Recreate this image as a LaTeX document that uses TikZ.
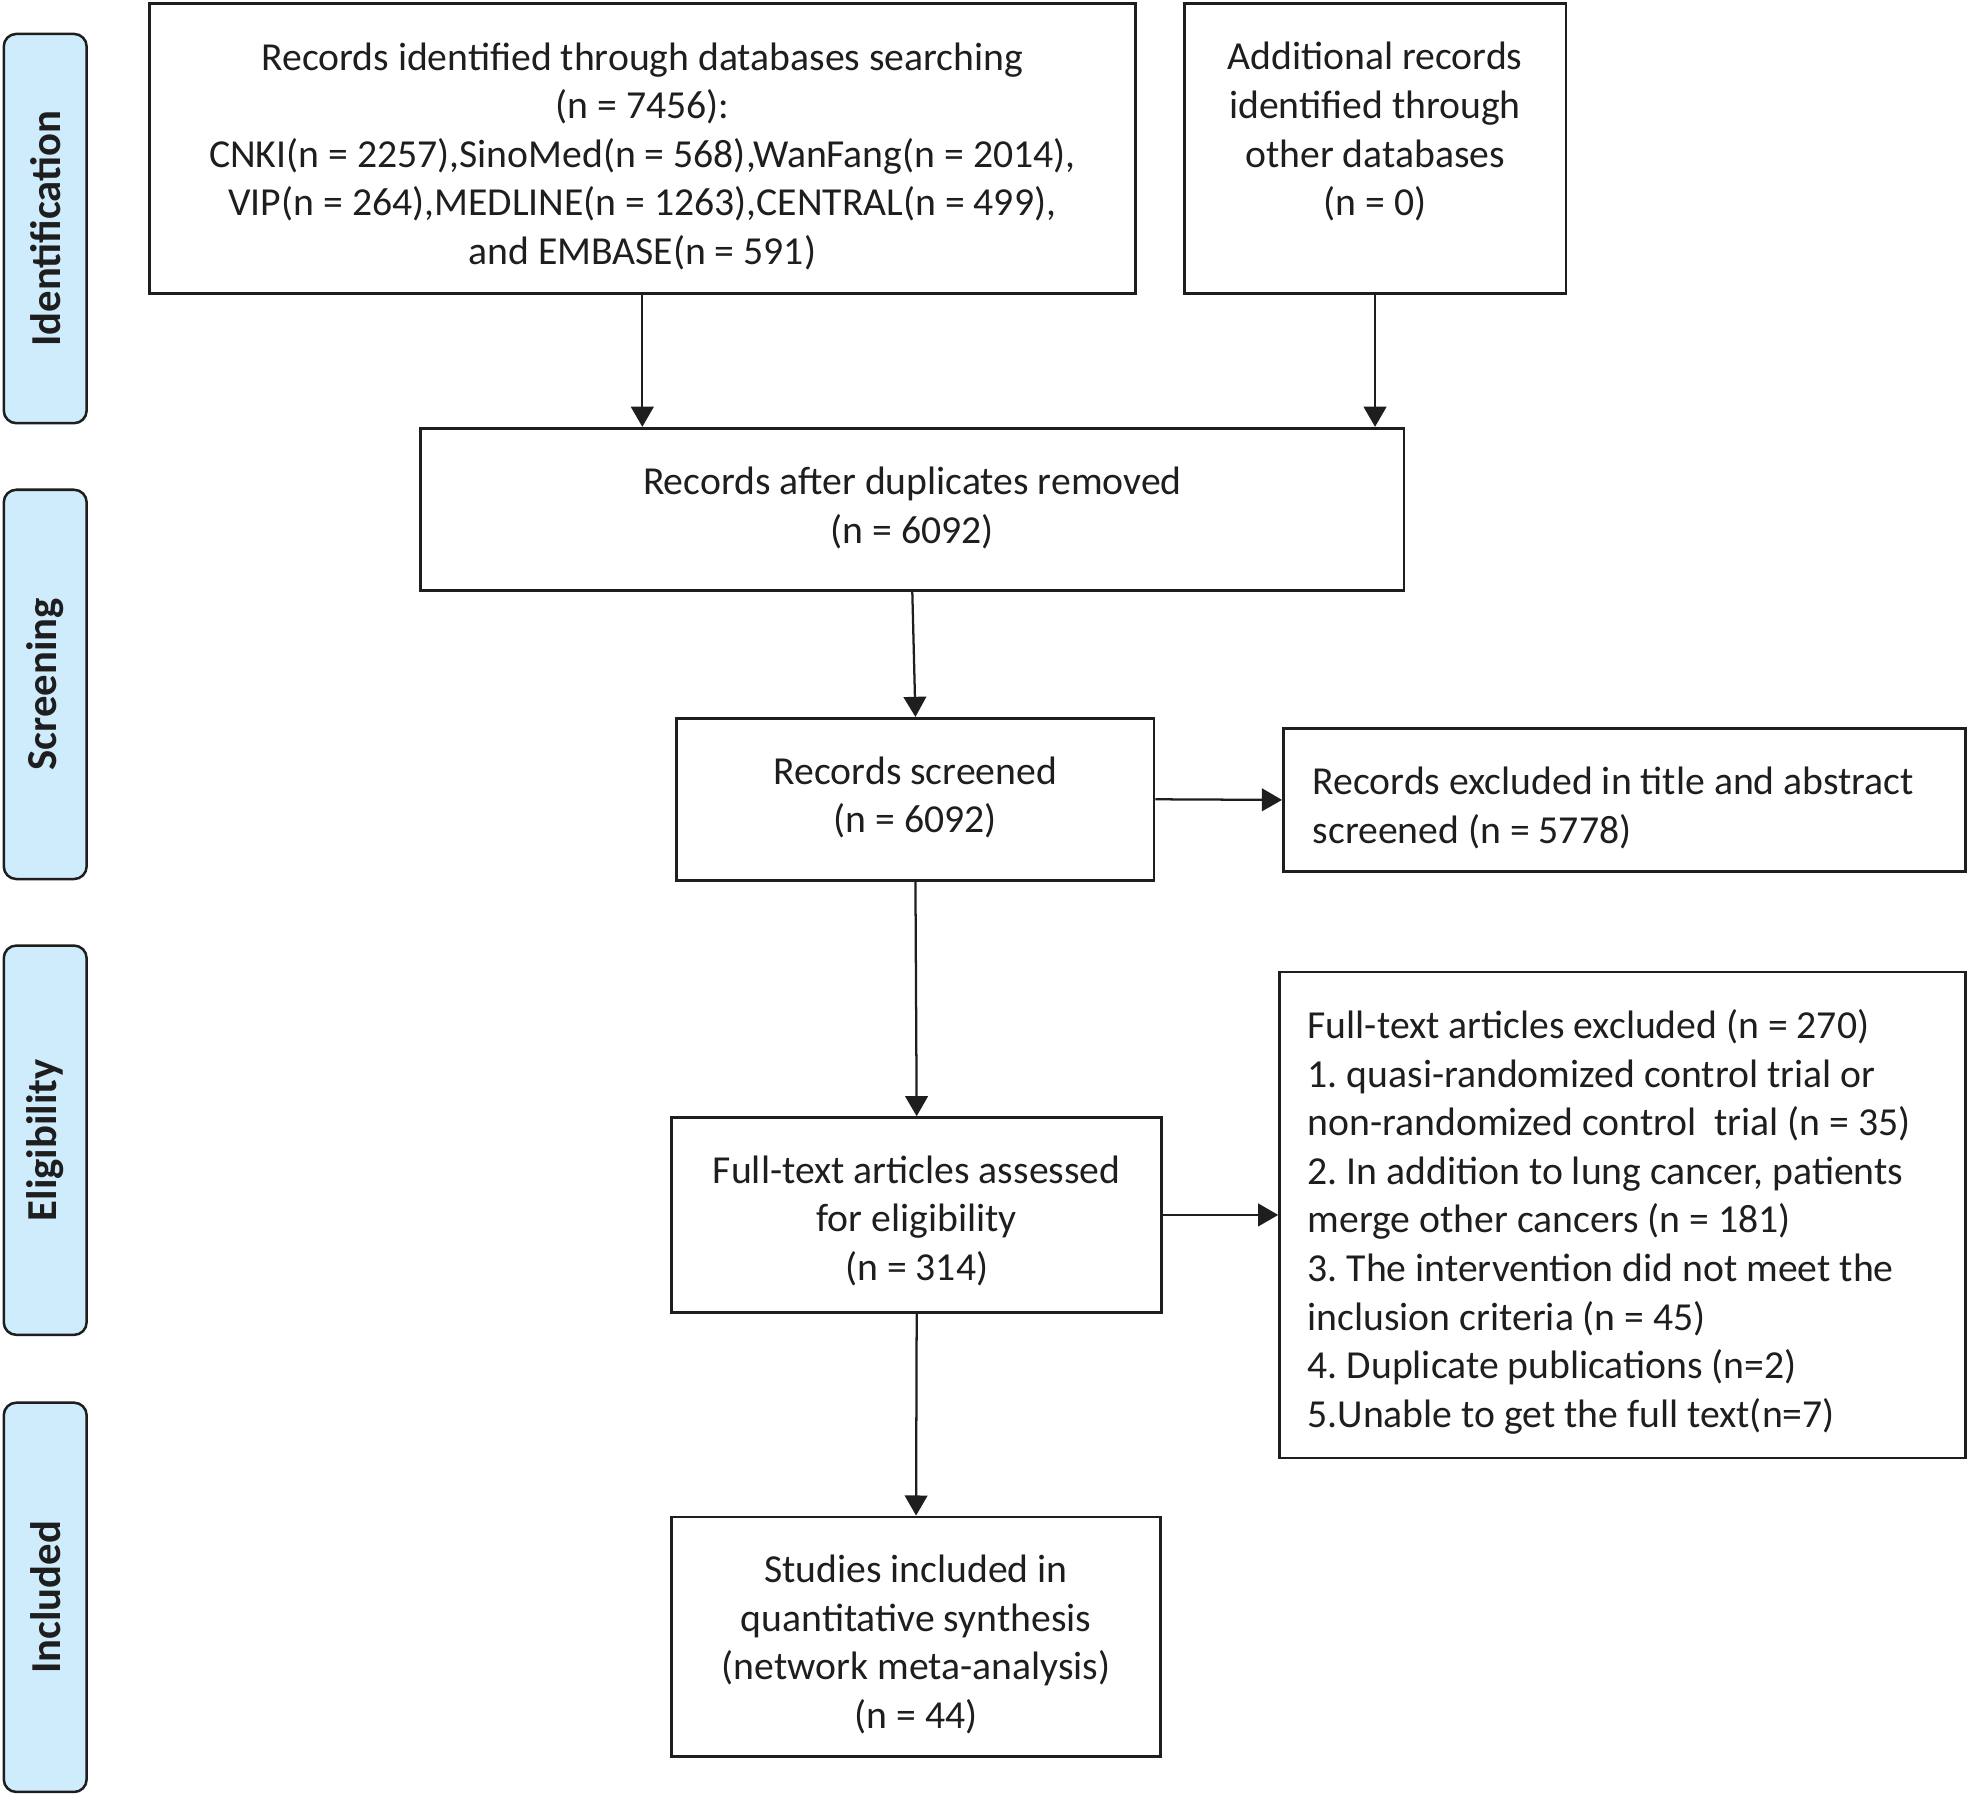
\documentclass[tikz,border=0pt]{standalone}
\usepackage{fontspec}
\setmainfont{Carlito}
\usetikzlibrary{arrows.meta}
\definecolor{phasefill}{RGB}{207,236,253}
\definecolor{ink}{RGB}{30,30,30}
\begin{document}
\begin{tikzpicture}[x=0.5pt,y=-0.5pt,
  box/.style={draw=ink, line width=1.1pt, inner sep=0pt},
  txt/.style={align=center, inner sep=0pt, text=ink,
    font=\fontsize{15.8}{19.35}\selectfont\frenchspacing},
  ltxt/.style={txt, align=left, anchor=west},
  phase/.style={draw=ink, line width=1pt, fill=phasefill, rounded corners=5pt,
    rotate=90, minimum width=155pt, minimum height=33pt, inner sep=0pt,
    font=\fontsize{17}{19}\selectfont\bfseries, text=ink},
  arr/.style={-{Triangle[length=8pt,width=9pt]}, line width=0.9pt, draw=ink}]
\useasboundingbox (0,0) rectangle (1568,1436);

% phase labels
\node[phase] (p1) at (36,182) {Identification};
\node[phase] (p2) at (36,545) {Screening};
\node[phase] (p3) at (36,908) {Eligibility};
\node[phase] (p4) at (36,1272) {Included};

% boxes
\node[box, minimum width=392.5pt, minimum height=115.5pt] (A) at (511.5,118.5) {};
\node[box, minimum width=152pt, minimum height=115.5pt] (B) at (1095,118.5) {};
\node[box, minimum width=391.5pt, minimum height=64.5pt] (C) at (726.5,405.5) {};
\node[box, minimum width=190pt, minimum height=64.5pt] (D) at (729,636.5) {};
\node[box, minimum width=271.5pt, minimum height=57pt] (E) at (1293.5,637) {};
\node[box, minimum width=195pt, minimum height=77.5pt] (F) at (730,967.5) {};
\node[box, minimum width=273pt, minimum height=193.5pt] (G) at (1292,967.5) {};
\node[box, minimum width=194.5pt, minimum height=95.5pt] (H) at (729.5,1303.5) {};

% texts
\node[txt] (At) at (511.5,124.5)
  {Records identified through databases searching\\
   (n = 7456):\\
   CNKI(n = 2257),SinoMed(n = 568),WanFang(n = 2014),\\
   VIP(n = 264),MEDLINE(n = 1263),CENTRAL(n = 499),\\
   and EMBASE(n = 591)};
\node[txt] (Bt) at (1095,105)
  {Additional records\\ identified through\\ other databases\\ (n = 0)};
\node[txt] (Ct) at (726.5,404.5)
  {Records after duplicates removed\\ (n = 6092)};
\node[txt] (Dt) at (729,635)
  {Records screened\\ (n = 6092)};
\node[ltxt] (Et) at (1045,643.5)
  {Records excluded in title and abstract\\ screened (n = 5778)};
\node[txt] (Ft) at (730,972)
  {Full-text articles assessed\\ for eligibility\\ (n = 314)};
\node[ltxt] (Gt) at (1041,973)
  {Full-text articles excluded (n = 270)\\
   1. quasi-randomized control trial or\\
   non-randomized control\ \ trial (n = 35)\\
   2. In addition to lung cancer, patients\\
   merge other cancers (n = 181)\\
   3. The intervention did not meet the\\
   inclusion criteria (n = 45)\\
   4. Duplicate publications (n=2)\\
   5.Unable to get the full text(n=7)};
\node[txt] (Ht) at (729.5,1309.5)
  {Studies included in\\ quantitative synthesis\\ (network meta-analysis)\\ (n = 44)};

% connectors
\draw[arr] (A.south) -- (A.south |- C.north);
\draw[arr] (B.south) -- (B.south |- C.north);
\draw[arr] (C.south) -- (D.north);
\draw[arr] (D.east) -- (E.west);
\draw[arr] (D.south) -- (F.north);
\draw[arr] (F.east) -- (G.west);
\draw[arr] (F.south) -- (H.north);
\end{tikzpicture}
\end{document}
